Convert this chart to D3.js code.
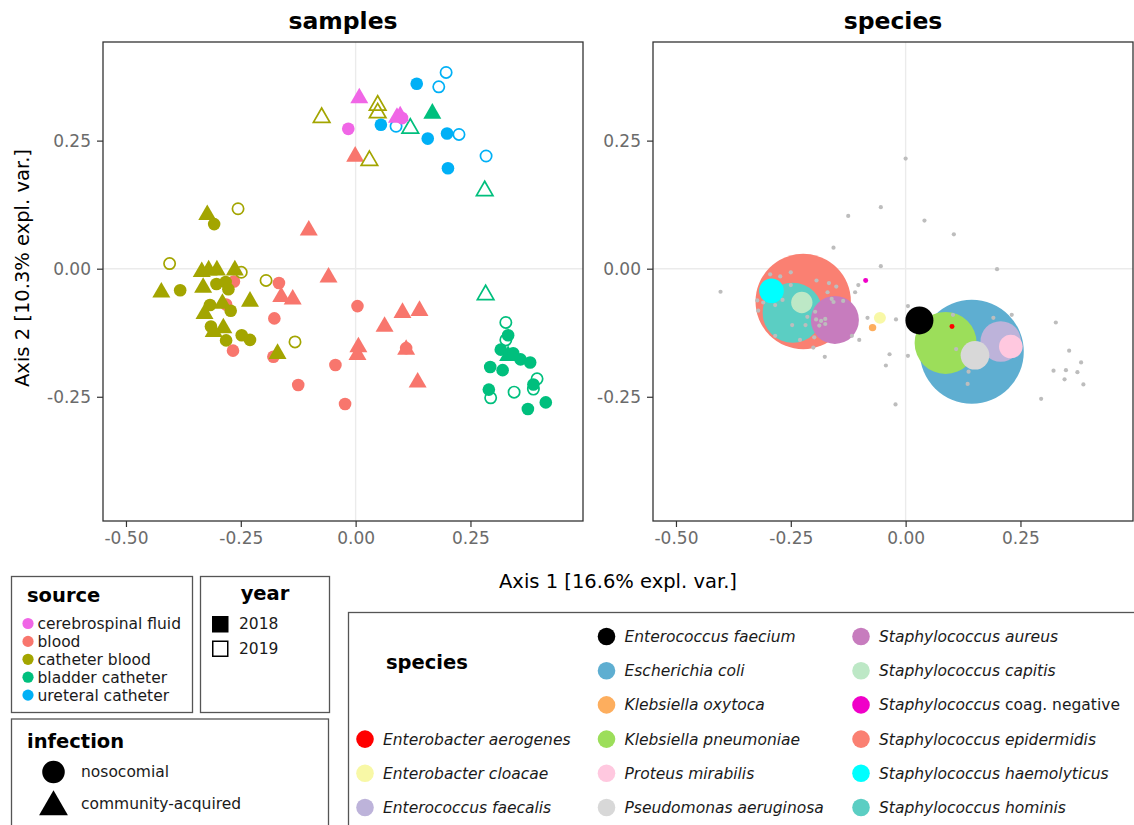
<!DOCTYPE html>
<html>
<head>
<meta charset="utf-8">
<script src="https://cdn.jsdelivr.net/npm/d3@7"></script>
<style>
  body { margin: 0; background: #fff; }
  svg { font-family: "DejaVu Sans", sans-serif; }
</style>
</head>
<body>
<div id="chart"></div>
<script>
//DATA

const sourceNames = ["cerebrospinal fluid", "blood", "catheter blood", "bladder catheter", "ureteral catheter"];
const sourceColors = ["#F066E6", "#F8766D", "#A3A500", "#00BF7D", "#00B0F6"];
const yearNames = ["2018", "2019"];
const infectionNames = ["nosocomial", "community-acquired"];

// samples: [axis1, axis2, infection (N = nosocomial, C = community-acquired), year]
const csfSamples = [
  [0.008, 0.333, "C", 2018], [0.090, 0.295, "C", 2018], [0.097, 0.298, "C", 2018],
  [0.101, 0.294, "N", 2018], [-0.016, 0.273, "N", 2018]
];
const bloodSamples = [
  [-0.001, 0.219, "C", 2018], [-0.102, 0.075, "C", 2018], [-0.059, -0.017, "C", 2018],
  [-0.265, -0.025, "N", 2018], [-0.167, -0.028, "N", 2018], [-0.162, -0.055, "C", 2018],
  [-0.137, -0.060, "C", 2018], [-0.282, -0.070, "N", 2018], [0.004, -0.073, "N", 2018],
  [0.102, -0.086, "C", 2018], [0.139, -0.082, "C", 2018], [-0.177, -0.097, "N", 2018],
  [0.063, -0.113, "C", 2018], [-0.267, -0.160, "N", 2018], [0.006, -0.153, "C", 2018],
  [0.004, -0.168, "C", 2018], [0.110, -0.155, "N", 2018], [0.110, -0.158, "C", 2018],
  [-0.179, -0.172, "N", 2018], [-0.044, -0.188, "N", 2018], [-0.125, -0.227, "N", 2018],
  [-0.023, -0.264, "N", 2018], [0.135, -0.222, "C", 2018]
];
const cathBloodSamples = [
  [0.048, 0.319, "C", 2019], [0.048, 0.304, "C", 2019], [-0.074, 0.295, "C", 2019],
  [0.030, 0.211, "C", 2019], [-0.323, 0.105, "C", 2018], [-0.308, 0.087, "N", 2018],
  [-0.256, 0.117, "N", 2019], [-0.405, 0.010, "N", 2019], [-0.335, -0.006, "C", 2018],
  [-0.320, -0.003, "C", 2018], [-0.302, -0.003, "C", 2018], [-0.263, -0.003, "C", 2018],
  [-0.249, -0.007, "N", 2019], [-0.195, -0.023, "N", 2019], [-0.423, -0.046, "C", 2018],
  [-0.382, -0.042, "N", 2018], [-0.332, -0.037, "C", 2018], [-0.303, -0.030, "N", 2018],
  [-0.283, -0.026, "N", 2018], [-0.277, -0.040, "N", 2018], [-0.230, -0.064, "C", 2018],
  [-0.317, -0.071, "N", 2018], [-0.290, -0.068, "C", 2018], [-0.272, -0.082, "N", 2018],
  [-0.329, -0.088, "C", 2018], [-0.315, -0.113, "N", 2018], [-0.288, -0.116, "C", 2018],
  [-0.309, -0.123, "C", 2018], [-0.282, -0.140, "N", 2018], [-0.248, -0.130, "N", 2018],
  [-0.230, -0.139, "N", 2018], [-0.132, -0.143, "N", 2019], [-0.170, -0.166, "C", 2018]
];
const bladderSamples = [
  [0.167, 0.303, "C", 2018], [0.119, 0.274, "C", 2019], [0.281, 0.152, "C", 2019],
  [0.283, -0.051, "C", 2019], [0.327, -0.105, "N", 2019], [0.332, -0.130, "N", 2018],
  [0.327, -0.139, "N", 2019], [0.316, -0.158, "N", 2018], [0.332, -0.170, "C", 2018],
  [0.343, -0.165, "N", 2018], [0.359, -0.177, "N", 2018], [0.380, -0.183, "N", 2018],
  [0.293, -0.192, "N", 2018], [0.320, -0.198, "N", 2018], [0.395, -0.215, "N", 2019],
  [0.387, -0.226, "N", 2018], [0.387, -0.235, "N", 2019], [0.290, -0.236, "N", 2018],
  [0.294, -0.252, "N", 2019], [0.345, -0.241, "N", 2019], [0.375, -0.274, "N", 2018],
  [0.414, -0.261, "N", 2018]
];
const ureteralSamples = [
  [0.197, 0.383, "N", 2019], [0.133, 0.361, "N", 2018], [0.181, 0.355, "N", 2019],
  [0.055, 0.281, "N", 2018], [0.088, 0.278, "N", 2019], [0.157, 0.254, "N", 2018],
  [0.199, 0.264, "N", 2018], [0.225, 0.262, "N", 2019], [0.284, 0.220, "N", 2019],
  [0.201, 0.196, "N", 2018]
];

// species
const speciesNames = [
  "Enterobacter aerogenes", "Enterobacter cloacae", "Enterococcus faecalis",
  "Enterococcus faecium", "Escherichia coli", "Klebsiella oxytoca",
  "Klebsiella pneumoniae", "Proteus mirabilis", "Pseudomonas aeruginosa",
  "Staphylococcus aureus", "Staphylococcus capitis", "Staphylococcus coag. negative",
  "Staphylococcus epidermidis", "Staphylococcus haemolyticus", "Staphylococcus hominis"
];
const speciesColors = [
  "#FF0000", "#F8F8A6", "#BDB3DA", "#000000", "#5EAED1", "#FDAE5E",
  "#9CDE5A", "#FFC8DF", "#D8D8D8", "#C77CBE", "#BDE8C6", "#F000C8",
  "#FA8072", "#00FFFF", "#5BCEC3"
];
const speciesX = [0.101, -0.056, 0.207, 0.030, 0.144, -0.072, 0.087, 0.229, 0.151, -0.154, -0.226, -0.087, -0.223, -0.292, -0.246];
const speciesY = [-0.113, -0.096, -0.142, -0.101, -0.162, -0.115, -0.145, -0.152, -0.169, -0.100, -0.066, -0.023, -0.064, -0.043, -0.086];
const speciesAbundance = [0.23, 1.33, 15.2, 7.25, 100, 0.51, 35.5, 5.15, 7.6, 21.3, 4.2, 0.23, 84.1, 5.6, 33.3];

// other loadings (grey dots)
const otherX = [0.000, -0.125, -0.054, 0.041, 0.105, -0.157, -0.054, 0.199, -0.403, -0.295, -0.273, -0.250, -0.250,
  -0.194, -0.167, -0.151, -0.170, -0.161, -0.157, -0.136, -0.323, -0.310, -0.321, -0.284, -0.268, -0.197, -0.214,
  -0.195, -0.184, -0.175, -0.188, -0.175, -0.247, -0.218, -0.284, -0.230, -0.199, -0.201, -0.176, -0.117, -0.101,
  -0.103, -0.110, -0.083, -0.021, 0.005, -0.035, -0.043, 0.005, -0.022, 0.103, 0.191, 0.231, 0.110, 0.137, 0.135,
  0.327, 0.356, 0.382, 0.322, 0.349, 0.374, 0.346, 0.387, 0.295];
const otherY = [0.215, 0.103, 0.120, 0.094, 0.067, 0.041, 0.005, -0.001, -0.045, -0.011, -0.015, -0.007, -0.032,
  -0.023, -0.028, -0.035, -0.046, -0.059, -0.065, -0.063, -0.062, -0.066, -0.082, -0.071, -0.061, -0.084, -0.094,
  -0.099, -0.102, -0.098, -0.111, -0.108, -0.110, -0.110, -0.131, -0.139, -0.134, -0.154, -0.172, -0.131, -0.139,
  -0.032, -0.046, -0.096, -0.099, -0.073, -0.167, -0.189, -0.170, -0.265, -0.090, -0.096, -0.090, -0.157, -0.201, -0.225,
  -0.105, -0.160, -0.183, -0.199, -0.198, -0.202, -0.216, -0.226, -0.254];

const xTicks = [-0.5, -0.25, 0, 0.25];
const yTicks = [-0.25, 0, 0.25];

//CONSTANTS

const width = 1134, height = 825;
const panelTop = 42, panelBottom = 521;
const xDomain = [-0.55, 0.495], yDomain = [-0.4925, 0.4425];

const svg = d3.select("#chart").append("svg")
  .attr("width", width)
  .attr("height", height);

function drawPanel(x0, x1, title) {
  const x = d3.scaleLinear().domain(xDomain).range([x0, x1]);
  const y = d3.scaleLinear().domain(yDomain).range([panelBottom, panelTop]);
  const g = svg.append("g");

  // zero lines
  g.append("line").attr("x1", x(0)).attr("x2", x(0)).attr("y1", panelTop).attr("y2", panelBottom)
    .attr("stroke", "#EBEBEB").attr("stroke-width", 1.4);
  g.append("line").attr("x1", x0).attr("x2", x1).attr("y1", y(0)).attr("y2", y(0))
    .attr("stroke", "#EBEBEB").attr("stroke-width", 1.4);

  const fmt = d => d.toFixed(2);
  const xAxis = g.append("g").attr("transform", `translate(0,${panelBottom})`)
    .call(d3.axisBottom(x).tickValues(xTicks).tickFormat(fmt).tickSize(6).tickPadding(5));
  const yAxis = g.append("g").attr("transform", `translate(${x0},0)`)
    .call(d3.axisLeft(y).tickValues(yTicks).tickFormat(fmt).tickSize(6).tickPadding(6));
  [xAxis, yAxis].forEach(a => {
    a.select(".domain").remove();
    a.selectAll(".tick line").attr("stroke", "#333").attr("stroke-width", 1.2);
    a.selectAll(".tick text").attr("fill", "#6b6b6b").attr("font-size", 17)
      .attr("font-family", "DejaVu Sans");
  });

  svg.append("text").attr("x", (x0 + x1) / 2).attr("y", 29)
    .attr("text-anchor", "middle").attr("font-size", 23.5).attr("font-weight", "bold")
    .text(title);

  const marks = svg.append("g");
  const border = svg.append("rect").attr("x", x0).attr("y", panelTop)
    .attr("width", x1 - x0).attr("height", panelBottom - panelTop)
    .attr("fill", "none").attr("stroke", "#333").attr("stroke-width", 1.3);
  return { x, y, marks };
}

//LEFT PANEL: samples
const left = drawPanel(103, 583, "samples");

const sampleGroups = [
  { src: 1, rows: bloodSamples },
  { src: 2, rows: cathBloodSamples },
  { src: 3, rows: bladderSamples },
  { src: 4, rows: ureteralSamples },
  { src: 0, rows: csfSamples }
];
const samples = sampleGroups.flatMap(gr => gr.rows.map(r => ({
  x: r[0], y: r[1], inf: r[2], year: r[3], color: sourceColors[gr.src]
})));

left.marks.selectAll("path")
  .data(samples)
  .join("path")
  .attr("transform", d => `translate(${left.x(d.x)},${left.y(d.y)})`)
  .attr("d", d => {
    const filled = d.year === 2018;
    const type = d.inf === "C" ? d3.symbolTriangle : d3.symbolCircle;
    const size = d.inf === "C" ? (filled ? 140 : 118) : (filled ? 125 : 100);
    return d3.symbol(type, size)();
  })
  .attr("fill", d => d.year === 2018 ? d.color : "none")
  .attr("stroke", d => d.year === 2018 ? "none" : d.color)
  .attr("stroke-width", 1.7);

//RIGHT PANEL: species
const right = drawPanel(653, 1133, "species");
const rScale = d3.scaleSqrt().domain([0, d3.max(speciesAbundance)]).range([0, 52]);

const species = speciesNames.map((n, i) => ({
  name: n, x: speciesX[i], y: speciesY[i], a: speciesAbundance[i], color: speciesColors[i]
})).sort((a, b) => b.a - a.a);

right.marks.selectAll("circle.sp")
  .data(species)
  .join("circle")
  .attr("class", "sp")
  .attr("cx", d => right.x(d.x))
  .attr("cy", d => right.y(d.y))
  .attr("r", d => rScale(d.a))
  .attr("fill", d => d.color);

right.marks.selectAll("circle.other")
  .data(otherX.map((v, i) => [v, otherY[i]]))
  .join("circle")
  .attr("class", "other")
  .attr("cx", d => right.x(d[0]))
  .attr("cy", d => right.y(d[1]))
  .attr("r", 2.1)
  .attr("fill", "#BDBDBD");

//AXIS TITLES
svg.append("text").attr("x", 618).attr("y", 588).attr("text-anchor", "middle")
  .attr("font-size", 19.5).text("Axis 1 [16.6% expl. var.]");
svg.append("text").attr("transform", "translate(29,268) rotate(-90)").attr("text-anchor", "middle")
  .attr("font-size", 19.5).text("Axis 2 [10.3% expl. var.]");

//LEGENDS
function box(x, y, w, h) {
  svg.append("rect").attr("x", x).attr("y", y).attr("width", w).attr("height", h)
    .attr("fill", "#fff").attr("stroke", "#555").attr("stroke-width", 1.3);
}

// source
box(11.5, 576.5, 181, 136);
svg.append("text").attr("x", 27).attr("y", 602).attr("font-size", 19.5).attr("font-weight", "bold").text("source");
const srcLeg = svg.append("g").selectAll("g").data(sourceNames).join("g")
  .attr("transform", (d, i) => `translate(28,${623.5 + i * 17.9})`);
srcLeg.append("circle").attr("r", 5.6).attr("fill", (d, i) => sourceColors[i]);
srcLeg.append("text").attr("x", 9.5).attr("dy", "0.35em").attr("font-size", 15.5).attr("fill", "#1a1a1a").text(d => d);

// year
box(200.5, 576.5, 129, 136);
svg.append("text").attr("x", 265).attr("y", 600).attr("text-anchor", "middle")
  .attr("font-size", 19.5).attr("font-weight", "bold").text("year");
const yrLeg = svg.append("g").selectAll("g").data(yearNames).join("g")
  .attr("transform", (d, i) => `translate(212,${616 + i * 24.5})`);
yrLeg.append("rect").attr("x", 0.75).attr("y", 0.75).attr("width", 15).attr("height", 15)
  .attr("fill", (d, i) => i === 0 ? "#000" : "#fff").attr("stroke", "#000").attr("stroke-width", 1.5);
yrLeg.append("text").attr("x", 27).attr("y", 8).attr("dy", "0.35em").attr("font-size", 15.5).attr("fill", "#1a1a1a").text(d => d);

// infection
box(11.5, 719, 317, 120);
svg.append("text").attr("x", 27).attr("y", 748).attr("font-size", 19.5).attr("font-weight", "bold").text("infection");
const infLeg = svg.append("g").selectAll("g").data(infectionNames).join("g")
  .attr("transform", (d, i) => `translate(53.5,${772 + i * 32})`);
infLeg.append("path")
  .attr("d", (d, i) => i === 0 ? d3.symbol(d3.symbolCircle, 400)() : d3.symbol(d3.symbolTriangle, 360)())
  .attr("transform", (d, i) => i === 0 ? null : "translate(0,3)")
  .attr("fill", "#000");
infLeg.append("text").attr("x", 27.5).attr("dy", "0.35em").attr("font-size", 15.5).attr("fill", "#1a1a1a").text(d => d);

// species
box(348.5, 612.5, 800, 230);
svg.append("text").attr("x", 386).attr("y", 669).attr("font-size", 19.5).attr("font-weight", "bold").text("species");
const colDot = [365, 606.5, 861];
const spLeg = svg.append("g").selectAll("g").data(speciesNames).join("g")
  .attr("transform", (d, i) => {
    const k = i + 3;
    return `translate(${colDot[Math.floor(k / 6)]},${636.5 + (k % 6) * 34.2})`;
  });
spLeg.append("circle").attr("r", 8.8).attr("fill", (d, i) => speciesColors[i]);
const spText = spLeg.append("text").attr("x", 18).attr("dy", "0.35em").attr("font-size", 15.5).attr("fill", "#1a1a1a");
spText.each(function(d) {
  const t = d3.select(this);
  if (d.endsWith("coag. negative")) {
    t.append("tspan").attr("font-style", "italic").text("Staphylococcus");
    t.append("tspan").text(" coag. negative");
  } else {
    t.append("tspan").attr("font-style", "italic").text(d);
  }
});
</script>
</body>
</html>
